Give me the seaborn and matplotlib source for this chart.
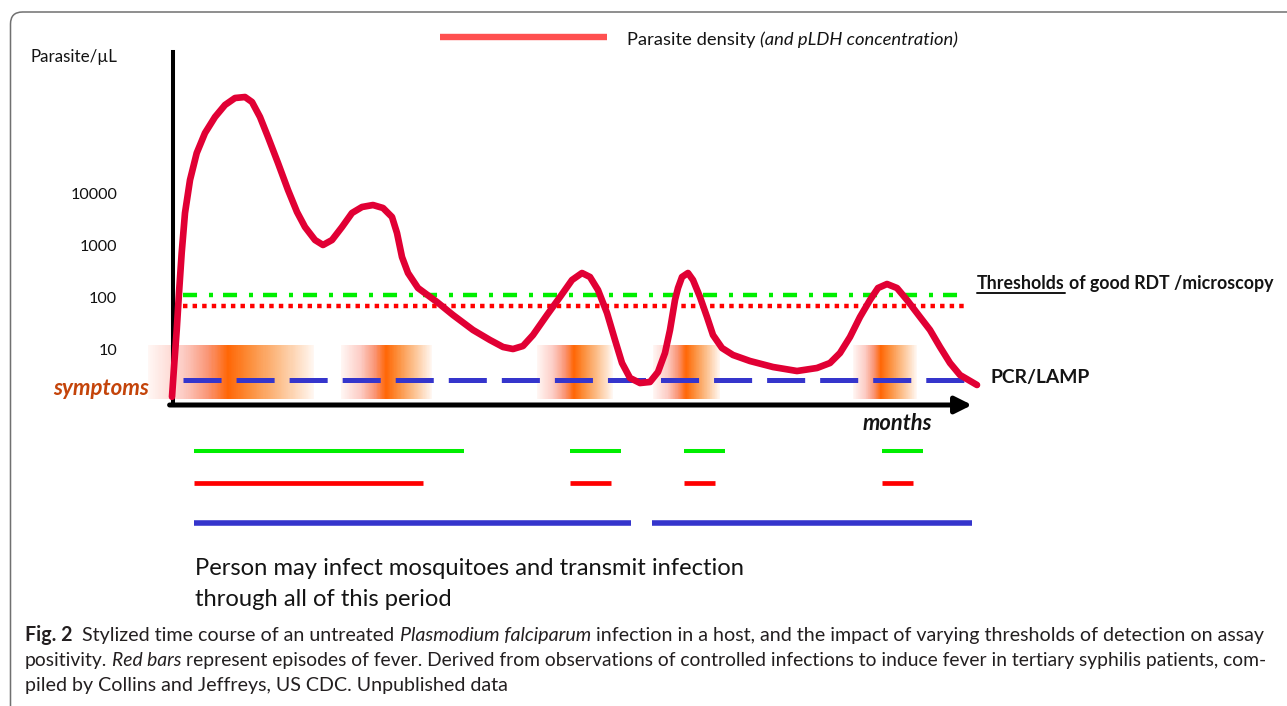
import numpy as np
import pandas as pd
import matplotlib
matplotlib.use("Agg")
import matplotlib.pyplot as plt
import matplotlib.font_manager as fm
import matplotlib.transforms as mtrans
from matplotlib.colors import LinearSegmentedColormap
from matplotlib.patches import FancyBboxPatch
from matplotlib.lines import Line2D
import seaborn as sns

# ---------------- data ----------------
months = [0.0, 0.029, 0.059, 0.0875, 0.121, 0.1625, 0.225, 0.309, 0.4125, 0.5375,
          0.6625, 0.7875, 0.9125, 1.0, 1.1, 1.2, 1.325, 1.45, 1.5625, 1.6625,
          1.7875, 1.8875, 2.0, 2.125, 2.25, 2.375, 2.5125, 2.6375, 2.75, 2.8125,
          2.875, 2.95, 3.075, 3.3125, 3.5125, 3.7625, 3.975, 4.1375, 4.2625, 4.3875,
          4.5125, 4.6875, 4.85, 5.0, 5.125, 5.225, 5.325, 5.4375, 5.5375, 5.625,
          5.725, 5.85, 5.975, 6.075, 6.1625, 6.225, 6.2875, 6.325, 6.375, 6.45,
          6.5125, 6.6, 6.6875, 6.7625, 6.875, 7.0125, 7.225, 7.5125, 7.8125, 8.0625,
          8.225, 8.35, 8.475, 8.6, 8.725, 8.825, 8.9375, 9.0625, 9.1875, 9.35,
          9.475, 9.6, 9.725, 9.85, 10.0625]
# parasite density, log10(parasites/µL)
log_density = [0.10, 0.75, 1.385, 2.096, 2.865, 3.635, 4.269, 4.788, 5.173, 5.481,
               5.712, 5.846, 5.865, 5.769, 5.481, 5.096, 4.596, 4.077, 3.654, 3.365,
               3.115, 3.019, 3.115, 3.365, 3.635, 3.75, 3.788, 3.731, 3.558, 3.25,
               2.788, 2.481, 2.192, 1.923, 1.673, 1.385, 1.192, 1.058, 1.019, 1.077,
               1.288, 1.673, 2.019, 2.346, 2.481, 2.404, 2.154, 1.712, 1.192, 0.75,
               0.462, 0.365, 0.385, 0.577, 0.942, 1.385, 1.962, 2.192, 2.404, 2.481,
               2.346, 2.019, 1.635, 1.288, 1.038, 0.904, 0.788, 0.673, 0.596, 0.654,
               0.75, 0.942, 1.25, 1.635, 1.962, 2.192, 2.269, 2.192, 1.962, 1.635,
               1.385, 1.058, 0.75, 0.519, 0.327]

y_ticks = [10, 100, 1000, 10000]
y_tick_labels = ["10", "100", "1000", "10000"]

thr_rdt = 112        # green dash-dot
thr_micro = 69       # red dotted
thr_pcr = 2.7        # blue dashed
thr_start, thr_end = 0.14, 9.85

# fever / symptom episodes (start, peak, end) in months
band_start = [-0.30, 2.11, 4.56, 6.01, 8.51]
band_peak = [0.70, 2.675, 5.025, 6.425, 8.86]
band_end = [1.78, 3.25, 5.51, 6.85, 9.31]
band_lo, band_hi = 1.15, 12.5

# detection windows
rdt_start = [0.28, 4.98, 6.40, 8.88]
rdt_end = [3.65, 5.61, 6.91, 9.39]
micro_start = [0.28, 4.98, 6.40, 8.88]
micro_end = [3.14, 5.49, 6.79, 9.26]
pcr_start = [0.28, 6.00]
pcr_end = [5.74, 10.0]

# ---------------- style ----------------
W, H = 1287, 706
sns.set_theme(style="white")
plt.rcParams["font.family"] = ["Lato", "DejaVu Sans"]
plt.rcParams["lines.scale_dashes"] = False

lato = ["Lato", "DejaVu Sans"]

fig = plt.figure(figsize=(W / 100, H / 100), dpi=100)
fig.patch.set_facecolor("white")


def fax(l, t, r, b):
    return [l / W, 1 - b / H, (r - l) / W, (b - t) / H]


ax = fig.add_axes(fax(140, 50, 990, 420))
ax.set_facecolor("none")
ax.set_yscale("log")
ax.set_xlim(-0.4, 10.225)
ax.set_ylim(10 ** (-18 / 52), 10 ** (352 / 52))

# symptom bands
cmap = LinearSegmentedColormap.from_list(
    "fever",
    [(0.0, (1.0, 0.97, 0.96)), (0.22, (0.99, 0.80, 0.77)), (0.38, (0.98, 0.58, 0.45)),
     (0.5, (1.0, 0.40, 0.02)), (0.62, (0.99, 0.55, 0.22)), (0.8, (0.99, 0.75, 0.55)),
     (1.0, (1.0, 0.97, 0.95))])
for s, p, e in zip(band_start, band_peak, band_end):
    xs = np.linspace(s, e, 161)
    xc = (xs[:-1] + xs[1:]) / 2
    u = np.where(xc < p, 0.5 * (xc - s) / (p - s), 0.5 + 0.5 * (xc - p) / (e - p))
    ax.pcolormesh(xs, [band_lo, band_hi], u[None, :], cmap=cmap, vmin=0, vmax=1,
                  shading="flat", zorder=1, antialiased=False)

# thresholds
ax.hlines(thr_rdt, thr_start, thr_end, color="#00EE00", lw=3.2,
          linestyles=[(0, (10.1, 8.6, 2.9, 7.2))], zorder=3)
ax.hlines(thr_micro, thr_start, thr_end + 0.08, color="#FF0000", lw=3.2,
          linestyles=[(0, (3.2, 3.7))], zorder=3)
ax.hlines(thr_pcr, thr_start, thr_end + 0.1, color="#3535CC", lw=3.6,
          linestyles=[(0, (27.4, 10.8))], zorder=3)

# parasite density curve
df = pd.DataFrame({"months": months, "density": 10 ** np.array(log_density)})
sns.lineplot(data=df, x="months", y="density", sort=False, estimator=None,
             color="#E10034", lw=4.8, ax=ax, zorder=4, legend=False)
for ln in ax.lines:
    ln.set_solid_capstyle("round")
    ln.set_solid_joinstyle("round")
    ln.set_antialiased(True)
    ln.set_clip_on(False)

# axes
y_axis = 10 ** (-3 / 52)
for sp in ["top", "right", "bottom"]:
    ax.spines[sp].set_visible(False)
ax.spines["left"].set_position(("data", 0.01))
ax.spines["left"].set_bounds(y_axis, 10 ** (350 / 52))
ax.spines["left"].set_linewidth(2.9)
ax.spines["left"].set_color("black")
ax.set_xticks([])
ax.set_yticks(y_ticks)
ax.set_yticklabels(y_tick_labels)
ax.yaxis.set_minor_locator(matplotlib.ticker.NullLocator())
ax.tick_params(axis="y", length=0, pad=40, labelsize=11.6, labelcolor="#111111")
for lb in ax.get_yticklabels():
    lb.set_fontfamily(lato)
ax.set_xlabel("")
ax.set_ylabel("")
ax.annotate("", xy=(10.0, y_axis), xytext=(-0.03, y_axis),
            arrowprops=dict(arrowstyle="-|>,head_length=0.5,head_width=0.25", color="black",
                            lw=3.6, shrinkA=0, shrinkB=0, mutation_scale=20))

# detection windows panel
ax2 = fig.add_axes(fax(140, 440, 990, 540))
ax2.set_xlim(-0.4, 10.225)
ax2.set_ylim(2.78125, -0.34375)
ax2.axis("off")
ax2.hlines([0] * len(rdt_start), rdt_start, rdt_end, color="#00EE00", lw=2.9, capstyle="butt")
ax2.hlines([1] * len(micro_start), micro_start, micro_end, color="#FF0000", lw=3.4, capstyle="butt")
ax2.hlines([2.25] * len(pcr_start), pcr_start, pcr_end, color="#3535CC", lw=4.0, capstyle="butt")

# frame
frame = FancyBboxPatch((10.5, -30), 1400, H - 12 + 30, boxstyle="round,pad=0,rounding_size=12",
                       transform=mtrans.IdentityTransform(), facecolor="none",
                       edgecolor="#707070", lw=1.1, zorder=0)
fig.add_artist(frame)

# legend sample line
fig.add_artist(Line2D([440 / W, 607 / W], [1 - 37 / H, 1 - 37 / H], color="#FF5050", lw=4.6,
                      solid_capstyle="butt"))

rend = fig.canvas.get_renderer()


def rich(x0, base_y, pieces, size, family, color="#141414", target=None):
    def render(sz):
        arts = []
        x = x0
        for txt, kw in pieces:
            fp = fm.FontProperties(family=family, size=sz, weight=kw.get("weight", "normal"),
                                   style=kw.get("style", "normal"))
            sw = (rend.get_text_width_height_descent("a a", fp, False)[0]
                  - rend.get_text_width_height_descent("aa", fp, False)[0])
            lead = len(txt) - len(txt.lstrip(" "))
            trail = len(txt) - len(txt.rstrip(" "))
            x += lead * sw
            t = fig.text(x / W, 1 - base_y / H, txt.strip(" "), fontproperties=fp,
                         color=kw.get("color", color), ha="left", va="baseline")
            bb = t.get_window_extent(rend)
            x = bb.x1 + trail * sw
            arts.append(t)
        return arts, x - x0, sz
    arts, w, sz = render(size)
    if target:
        for a in arts:
            a.remove()
        arts, w, sz = render(size * target / w)
    return arts, sz


rich(30, 62, [("Parasite/µL", {})], 11.5, lato, target=88)
rich(53, 395, [("symptoms", {"weight": "bold", "style": "italic", "color": "#C4440A"})], 13, lato, target=96)
rich(863, 430, [("months", {"weight": "bold", "style": "italic"})], 13, lato, target=69)
arts, _ = rich(977, 289, [("Thresholds", {"weight": "bold"}), (" of good RDT /microscopy", {"weight": "bold"})],
               11.5, lato, target=295)
bb = arts[0].get_window_extent(rend)
fig.add_artist(Line2D([bb.x0 / W, bb.x1 / W], [1 - 292.5 / H, 1 - 292.5 / H], color="#141414", lw=1.4))
rich(990, 383, [("PCR/LAMP", {"weight": "bold"})], 14, lato, target=100)
rich(627, 45, [("Parasite density", {}), (" (and pLDH concentration)", {"style": "italic"})], 11.5, lato, target=331)
_, psz = rich(195, 575, [("Person may infect mosquitoes and transmit infection", {})], 16, lato, target=551)
rich(195, 606, [("through all of this period", {})], psz, lato)

_, csz = rich(25, 641, [("Fig. 2", {"weight": "bold"}), ("  Stylized time course of an untreated ", {}),
                        ("Plasmodium falciparum", {"style": "italic"}),
                        (" infection in a host, and the impact of varying thresholds of detection on assay", {})],
              11, lato, color="#231F20", target=1235)
rich(25, 666, [("positivity. ", {}), ("Red bars", {"style": "italic"}),
               (" represent episodes of fever. Derived from observations of controlled infections to induce fever in tertiary syphilis patients, com-", {})],
     11, lato, color="#231F20", target=1237)
rich(25, 691, [("piled by Collins and Jeffreys, US CDC. Unpublished data", {})], csz, lato, color="#231F20")

fig.savefig("out.png", dpi=100, facecolor="white")
